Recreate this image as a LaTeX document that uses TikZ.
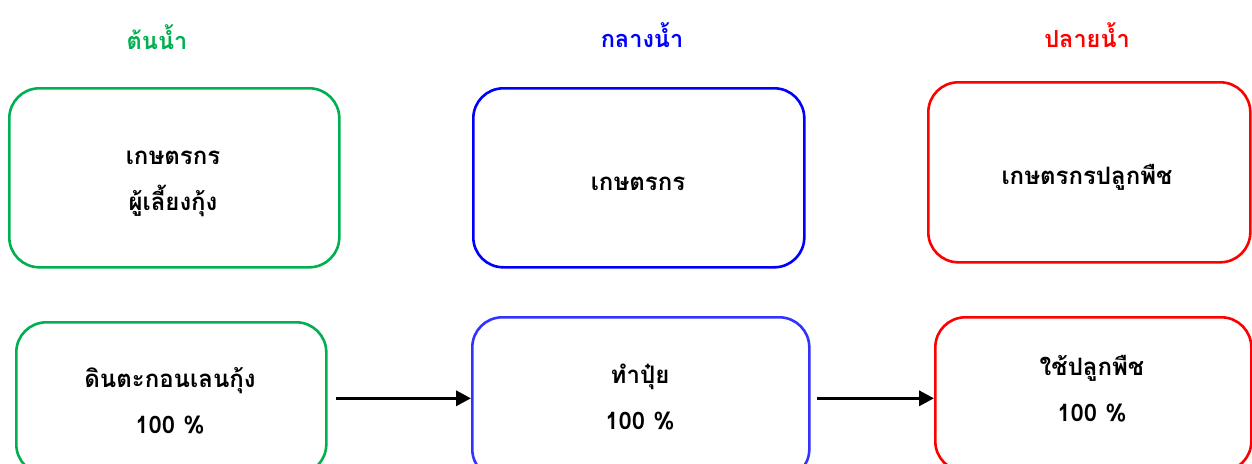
\documentclass[tikz,border=0pt]{standalone}
\usepackage{fontspec}
\setmainfont{Loma}[Script=Thai]
\usetikzlibrary{arrows.meta}
\definecolor{cgreen}{RGB}{0,176,80}
\definecolor{cblue}{RGB}{0,0,255}
\definecolor{cblueb}{RGB}{51,51,255}
\definecolor{cred}{RGB}{255,0,0}
\tikzset{
  box/.style={draw, line width=2.6pt, rounded corners=30pt, anchor=north west, inner sep=0pt},
  lbl/.style={font=\fontsize{24}{28}\selectfont\bfseries, align=center, inner sep=0pt},
  ttl/.style={font=\fontsize{23.5}{28}\selectfont\bfseries, inner sep=0pt},
  flow/.style={line width=3.4pt, -{Triangle[length=15pt,width=15pt]}}
}
\begin{document}
\begin{tikzpicture}[x=1pt,y=-1pt]
\useasboundingbox (0,0) rectangle (1252,463);
\clip (0,0) rectangle (1252,463);
% titles
\node[ttl, text=cgreen] (t1) at (157,37) {ต้นน้ำ};
\node[ttl, text=cblue] (t2) at (642,35) {กลางน้ำ};
\node[ttl, text=cred] (t3) at (1087,35) {ปลายน้ำ};
% top boxes
\node[box, draw=cgreen, minimum width=330pt, minimum height=179pt] (g1) at (8,87) {};
\node[box, draw=cblue, minimum width=331pt, minimum height=179pt] (b1) at (472,87) {};
\node[box, draw=cred, minimum width=322pt, minimum height=180pt] (r1) at (927,81) {};
\node[lbl] (g1t) at (173,184) {เกษตรกร\\[18pt]ผู้เลี้ยงกุ้ง};
\node[lbl] (b1t) at (638,184) {เกษตรกร};
\node[lbl] (r1t) at (1087,177) {เกษตรกรปลูกพืช};
% bottom boxes
\node[box, draw=cgreen, minimum width=310pt, minimum height=152pt] (g2) at (15,321) {};
\node[box, draw=cblueb, minimum width=337pt, minimum height=162pt] (b2) at (471,316) {};
\node[box, draw=cred, minimum width=316pt, minimum height=154pt] (r2) at (934,316) {};
\node[lbl] (g2t) at (170,401) {ดินตะกอนเลนกุ้ง\\[18pt]100 \%};
\node[lbl] (b2t) at (640,397) {ทำปุ๋ย\\[18pt]100 \%};
\node[lbl] (r2t) at (1092,389) {ใช้ปลูกพืช\\[18pt]100 \%};
% arrows
\draw[flow, shorten <=8pt] (g2.east) -- (g2.east -| b2.west);
\draw[flow, shorten <=6pt] (b2.east) -- (b2.east -| r2.west);
\end{tikzpicture}
\end{document}
